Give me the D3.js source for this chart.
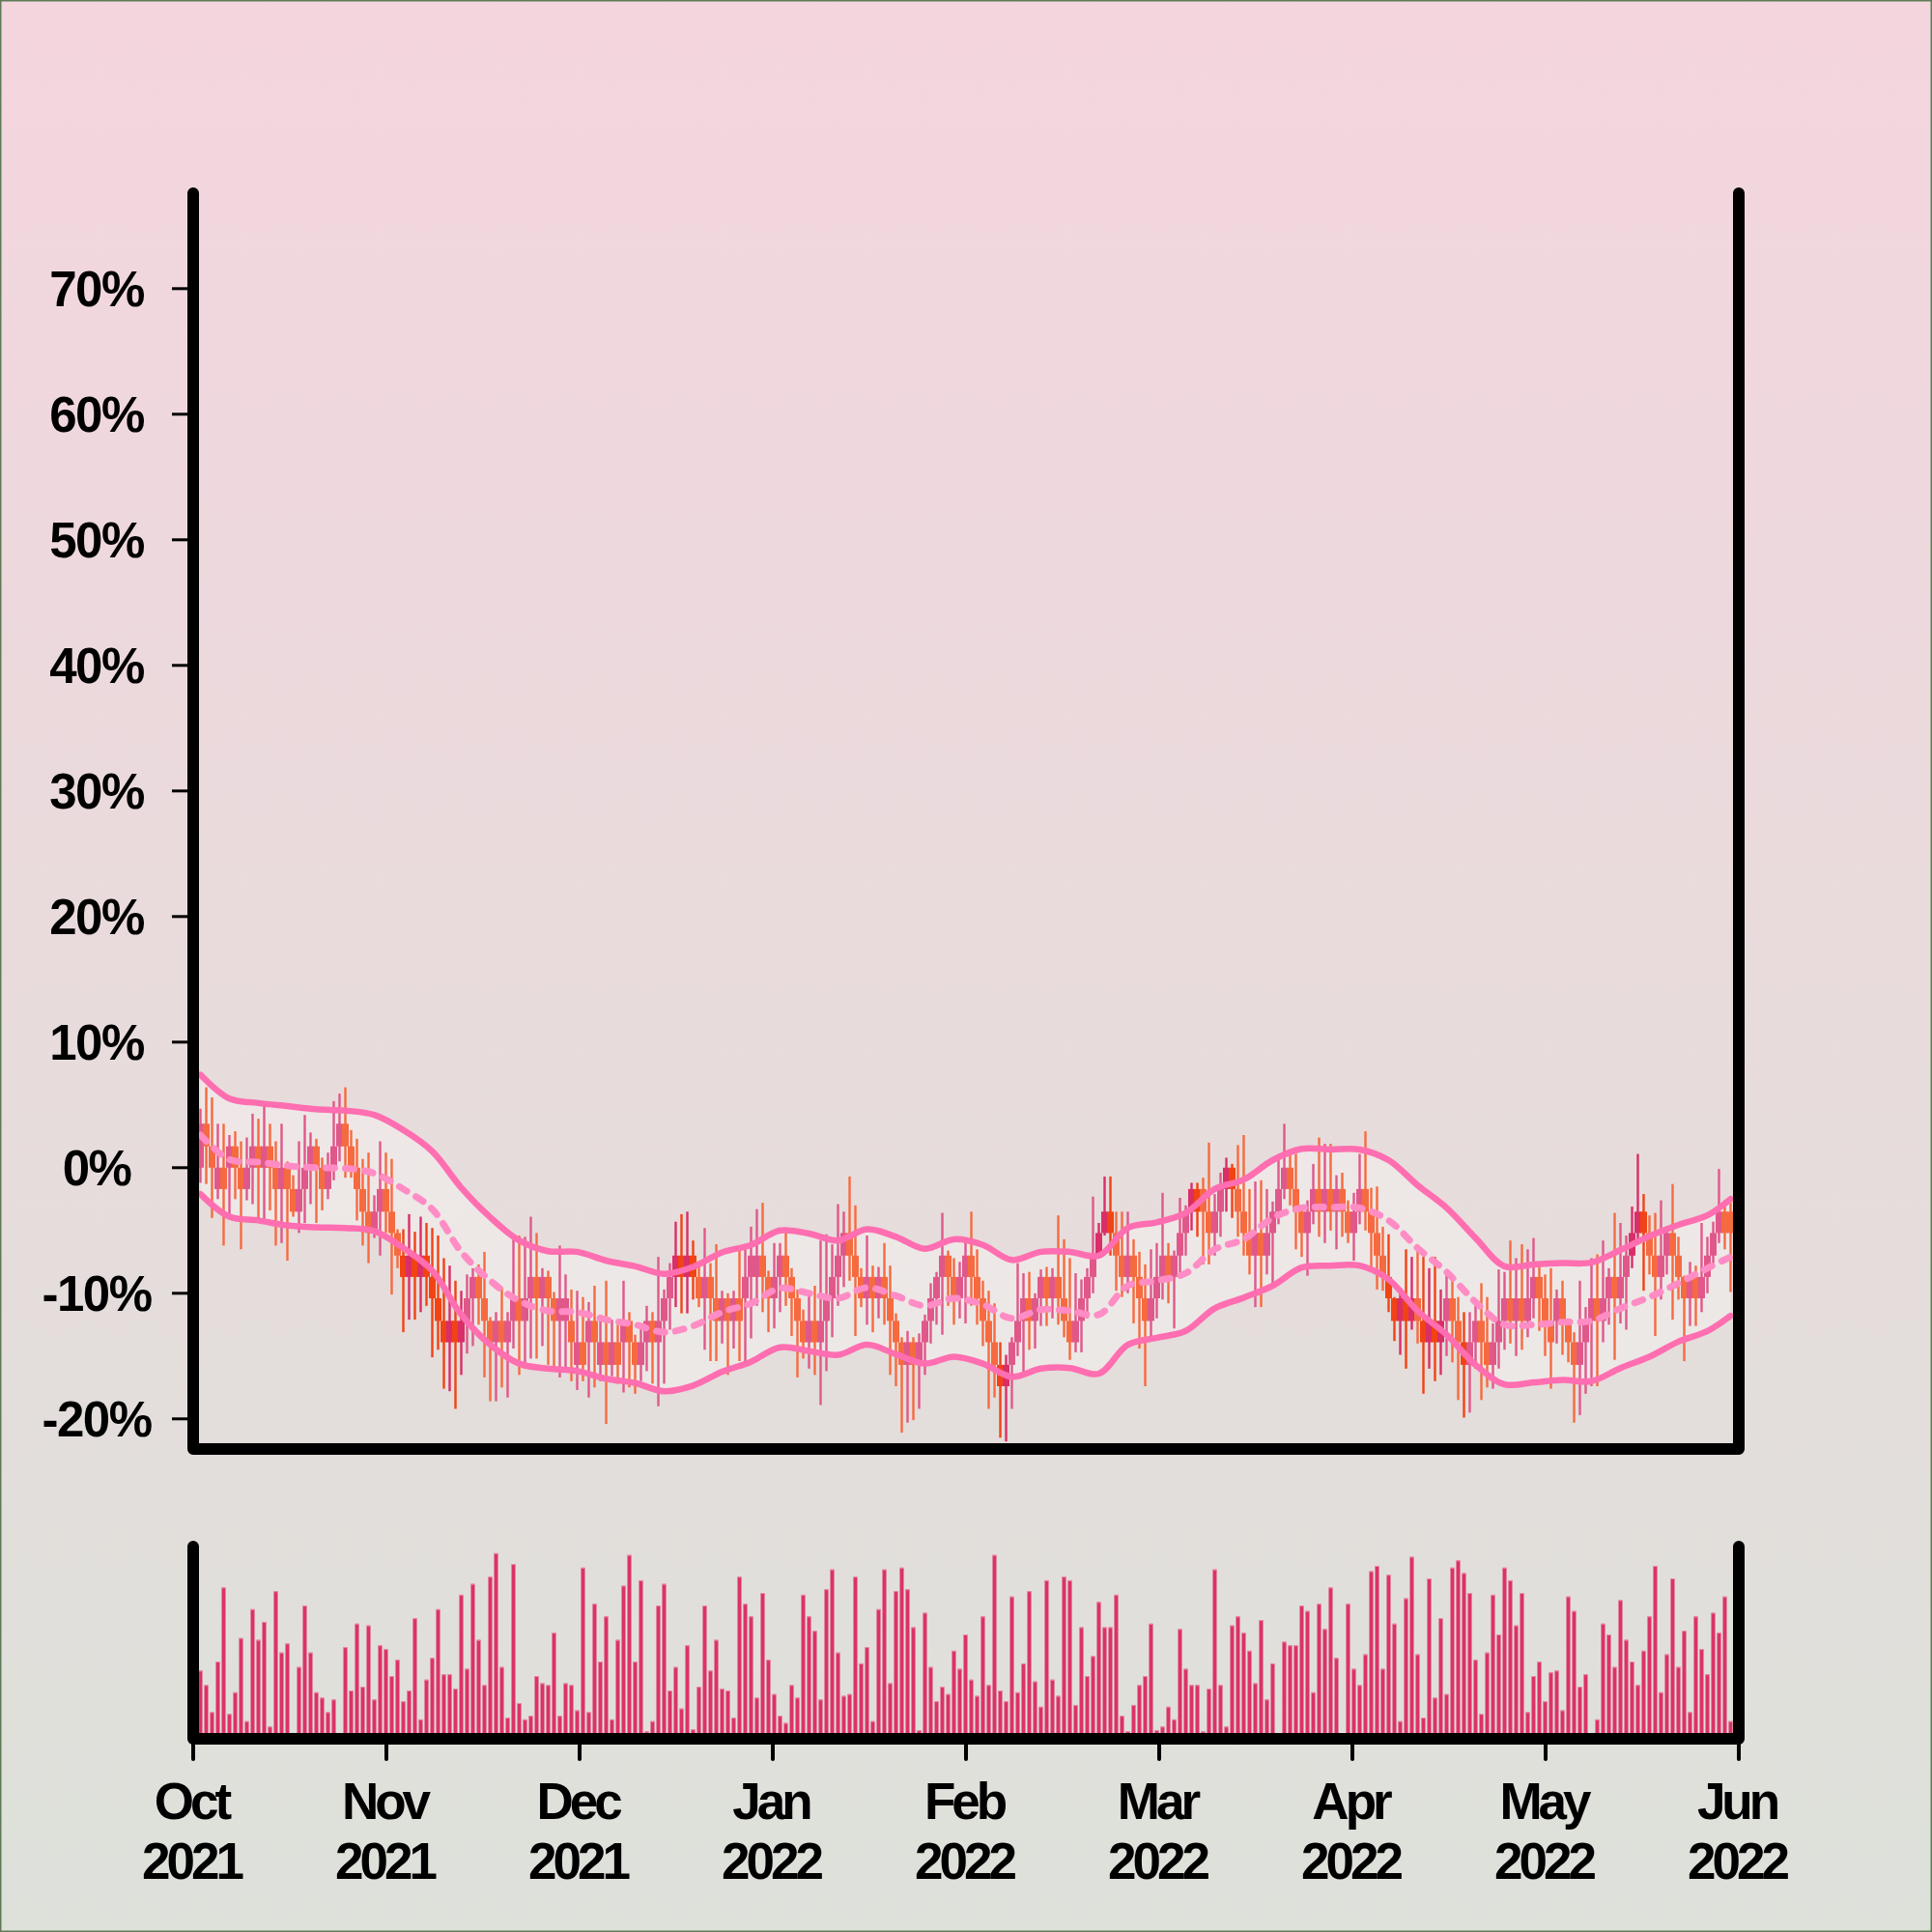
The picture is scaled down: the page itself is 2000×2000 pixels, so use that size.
<!DOCTYPE html>
<html><head><meta charset="utf-8">
<script src="https://cdn.jsdelivr.net/npm/d3@7"></script>
<style>html,body{margin:0;padding:0;background:#fff}svg{display:block}</style>
</head><body>
<svg id="chart" width="2000" height="2000"></svg>
<script>
// ---------- data ----------
const monthNames = ["Oct","Nov","Dec","Jan","Feb","Mar","Apr","May","Jun"];
const monthYears = ["2021","2021","2021","2022","2022","2022","2022","2022","2022"];
const yTicks = [-20,-10,0,10,20,30,40,50,60,70];

// daily candles, % change from start
const opens = [
0,3.5,1.7,-1.7,0,0,1.7,0,-1.7,0,
1.7,0,1.7,0,-1.7,0,-1.7,-3.5,-1.7,0,
1.7,0,-1.7,0,1.7,3.5,1.7,0,-1.7,-3.5,
-5.2,-3.5,-1.7,-3.5,-5.2,-7.0,-8.7,-7.0,-8.7,-7.0,
-8.7,-10.4,-12.2,-13.9,-12.2,-13.9,-12.2,-10.4,-8.7,-10.4,
-12.2,-13.9,-12.2,-13.9,-12.2,-10.4,-12.2,-10.4,-8.7,-10.4,
-8.7,-10.4,-12.2,-12.2,-12.2,-15.7,-13.9,-13.9,-12.2,-15.7,
-13.9,-15.7,-13.9,-13.9,-12.2,-13.9,-15.7,-13.9,-12.2,-13.9,
-12.2,-10.4,-8.7,-7.0,-8.7,-7.0,-8.7,-10.4,-8.7,-10.4,
-12.2,-10.4,-12.2,-10.4,-10.4,-8.7,-8.7,-7.0,-8.7,-10.4,
-8.7,-7.0,-8.7,-10.4,-12.2,-13.9,-12.2,-13.9,-12.2,-10.4,
-8.7,-7.0,-5.2,-7.0,-8.7,-10.4,-8.7,-10.4,-8.7,-10.4,
-12.2,-13.9,-15.7,-13.9,-15.7,-13.9,-12.2,-10.4,-8.7,-7.0,
-8.7,-10.4,-8.7,-7.0,-8.7,-10.4,-12.2,-13.9,-15.7,-17.4,
-15.7,-13.9,-12.2,-10.4,-12.2,-10.4,-8.7,-10.4,-8.7,-10.4,
-12.2,-13.9,-12.2,-10.4,-8.7,-7.0,-5.2,-3.5,-5.2,-7.0,
-8.7,-7.0,-8.7,-10.4,-12.2,-10.4,-8.7,-7.0,-8.7,-7.0,
-5.2,-3.5,-1.7,-1.7,-3.5,-5.2,-3.5,-1.7,0,-1.7,
-3.5,-5.2,-7.0,-5.2,-7.0,-5.2,-3.5,-1.7,0,-1.7,
-3.5,-5.2,-3.5,-1.7,-3.5,-1.7,-3.5,-1.7,-3.5,-5.2,
-3.5,-1.7,-3.5,-5.2,-7.0,-8.7,-10.4,-12.2,-10.4,-12.2,
-10.4,-12.2,-13.9,-12.2,-13.9,-12.2,-10.4,-12.2,-13.9,-15.7,
-13.9,-12.2,-13.9,-15.7,-13.9,-12.2,-10.4,-12.2,-10.4,-12.2,
-10.4,-8.7,-10.4,-12.2,-12.2,-10.4,-12.2,-13.9,-15.7,-13.9,
-12.2,-10.4,-12.2,-10.4,-8.7,-10.4,-8.7,-7.0,-5.2,-3.5,
-5.2,-7.0,-8.7,-7.0,-5.2,-7.0,-8.7,-10.4,-8.7,-10.4,
-8.7,-7.0,-5.2,-3.5,-3.5
];
const closes = [
3.5,1.7,0,0,-1.7,1.7,0,-1.7,0,1.7,
0,1.7,0,-1.7,0,-1.7,-3.5,-1.7,0,1.7,
0,-1.7,0,1.7,3.5,1.7,0,-1.7,-3.5,-5.2,
-3.5,-1.7,-3.5,-5.2,-7.0,-8.7,-7.0,-8.7,-7.0,-8.7,
-10.4,-12.2,-13.9,-12.2,-13.9,-12.2,-10.4,-8.7,-10.4,-12.2,
-13.9,-12.2,-13.9,-12.2,-10.4,-12.2,-10.4,-8.7,-10.4,-8.7,
-10.4,-12.2,-10.4,-10.4,-13.9,-13.9,-15.7,-12.2,-13.9,-13.9,
-15.7,-13.9,-15.7,-12.2,-13.9,-15.7,-13.9,-12.2,-13.9,-12.2,
-10.4,-8.7,-7.0,-8.7,-7.0,-8.7,-10.4,-8.7,-10.4,-12.2,
-10.4,-12.2,-10.4,-12.2,-8.7,-7.0,-7.0,-8.7,-10.4,-8.7,
-7.0,-8.7,-10.4,-12.2,-13.9,-12.2,-13.9,-12.2,-10.4,-8.7,
-7.0,-5.2,-7.0,-8.7,-10.4,-8.7,-10.4,-8.7,-10.4,-12.2,
-13.9,-15.7,-13.9,-15.7,-13.9,-12.2,-10.4,-8.7,-7.0,-8.7,
-10.4,-8.7,-7.0,-8.7,-10.4,-12.2,-13.9,-15.7,-17.4,-15.7,
-13.9,-12.2,-10.4,-12.2,-10.4,-8.7,-10.4,-8.7,-10.4,-12.2,
-13.9,-12.2,-10.4,-8.7,-7.0,-5.2,-3.5,-5.2,-7.0,-8.7,
-7.0,-8.7,-10.4,-12.2,-10.4,-8.7,-7.0,-8.7,-7.0,-5.2,
-3.5,-1.7,-3.5,-3.5,-5.2,-3.5,-1.7,0,-1.7,-3.5,
-5.2,-7.0,-5.2,-7.0,-5.2,-3.5,-1.7,0,-1.7,-3.5,
-5.2,-3.5,-1.7,-3.5,-1.7,-3.5,-1.7,-3.5,-5.2,-3.5,
-1.7,-3.5,-5.2,-7.0,-8.7,-10.4,-12.2,-10.4,-12.2,-10.4,
-12.2,-13.9,-12.2,-13.9,-12.2,-10.4,-12.2,-13.9,-15.7,-13.9,
-12.2,-13.9,-15.7,-13.9,-12.2,-10.4,-12.2,-10.4,-12.2,-10.4,
-8.7,-10.4,-12.2,-13.9,-10.4,-12.2,-13.9,-15.7,-13.9,-12.2,
-10.4,-12.2,-10.4,-8.7,-10.4,-8.7,-7.0,-5.2,-3.5,-5.2,
-7.0,-8.7,-7.0,-5.2,-7.0,-8.7,-10.4,-8.7,-10.4,-8.7,
-7.0,-5.2,-3.5,-5.2,-5.2
];
const highs = [
4.7,6.4,5.6,3.5,3.5,2.6,2.9,2.1,2.4,4.3,
3.9,5.0,3.5,2.1,3.5,0.5,-0.6,2.1,4.2,2.8,
2.3,0.8,1.2,5.3,5.9,6.4,3.0,2.3,0.7,1.2,
-2.2,2.1,1.2,0.7,-4.9,-4.9,-3.7,-5.1,-3.9,-4.4,
-4.8,-5.4,-7.2,-7.8,-9.0,-9.8,-8.5,-8.0,-7.7,-6.7,
-11.9,-11.5,-9.5,-11.5,-5.5,-5.4,-5.5,-3.9,-5.2,-8.0,
-8.2,-9.9,-6.2,-8.5,-9.7,-9.8,-10.3,-10.7,-9.4,-11.7,
-9.0,-12.1,-12.5,-9.0,-11.5,-13.3,-12.4,-11.0,-11.5,-7.1,
-9.7,-7.6,-4.3,-3.7,-3.5,-5.8,-7.6,-4.8,-7.6,-6.1,
-9.8,-10.0,-9.8,-6.6,-6.5,-4.7,-3.3,-2.8,-8.2,-6.0,
-6.0,-5.1,-8.0,-9.7,-11.3,-10.1,-9.4,-5.8,-5.3,-6.1,
-2.9,-3.5,-0.7,-3.0,-8.0,-5.4,-7.8,-7.9,-6.0,-7.8,
-11.6,-13.5,-13.0,-13.5,-13.2,-11.7,-9.2,-8.3,-3.6,-6.6,
-7.2,-7.5,-5.6,-3.5,-6.5,-9.0,-9.8,-10.8,-13.9,-14.9,
-13.5,-7.6,-8.4,-8.3,-10.0,-8.1,-7.9,-8.0,-3.8,-5.7,
-7.2,-8.4,-8.9,-8.0,-2.3,-4.4,-0.7,-0.7,-3.5,-3.5,
-3.5,-5.7,-6.7,-7.7,-6.5,-6.0,-2.0,-6.0,-6.6,-2.4,
-3.0,-1.2,-1.2,-0.8,2.0,-2.1,-0.4,0.8,0.3,1.8,
2.6,-1.7,-1.1,-1.0,-1.7,-2.7,1.0,3.5,1.0,1.1,
-3.4,-2.6,0.3,2.4,1.9,1.9,-0.6,-0.4,-2.6,-2.0,
1.1,2.9,-1.6,-1.5,-4.7,-5.3,-10.3,-9.9,-6.5,-7.1,
-6.2,-7.1,-8.0,-7.1,-9.7,-8.1,-8.6,-10.3,-11.5,-11.5,
-10.5,-9.2,-10.3,-12.4,-8.1,-8.3,-5.8,-7.2,-6.1,-6.5,
-5.6,-7.6,-8.5,-8.0,-9.7,-9.0,-12.0,-13.1,-9.0,-11.1,
-7.2,-6.9,-5.8,-8.0,-3.6,-4.4,-5.4,-3.1,1.1,-2.1,
-3.8,-3.6,-2.6,-4.7,-1.3,-5.5,-8.6,-7.5,-7.8,-4.4,
-5.5,-4.3,-0.1,-2.6,-2.8
];
const lows = [
-1.2,-1.3,-4.0,-2.5,-6.2,-3.7,-2.5,-6.5,-2.6,-2.9,
-4.0,-4.4,-3.4,-6.2,-6.0,-7.4,-3.9,-5.2,-4.4,-2.9,
-4.4,-3.4,-2.5,-1.0,0.5,-0.8,-0.8,-4.2,-6.2,-7.6,
-5.6,-7.0,-5.2,-10.1,-8.0,-13.1,-12.1,-12.1,-11.5,-11.0,
-15.1,-14.5,-17.6,-17.8,-19.2,-16.5,-14.8,-14.2,-12.5,-16.7,
-18.6,-18.6,-17.5,-18.3,-14.4,-16.5,-16.0,-15.2,-15.2,-14.2,
-15.7,-16.0,-16.7,-16.1,-17.0,-17.7,-17.0,-18.3,-17.5,-17.0,
-20.4,-16.6,-17.2,-17.9,-17.5,-18.0,-17.0,-16.2,-17.2,-19.0,
-17.2,-12.9,-11.1,-11.6,-11.6,-10.5,-11.1,-14.5,-15.4,-15.4,
-14.0,-16.5,-14.4,-15.4,-15.4,-13.6,-11.0,-11.5,-13.1,-12.8,
-11.5,-11.0,-13.4,-16.7,-15.2,-16.0,-16.5,-18.9,-16.2,-13.5,
-11.0,-9.5,-9.0,-13.4,-11.1,-12.5,-13.1,-12.0,-12.5,-16.5,
-17.4,-21.1,-20.3,-20.1,-19.2,-16.5,-14.0,-12.5,-13.3,-11.0,
-12.5,-12.0,-12.4,-11.0,-12.5,-14.2,-19.2,-18.3,-21.5,-21.8,
-19.2,-15.0,-16.5,-14.5,-14.4,-12.6,-12.6,-12.0,-12.5,-13.5,
-15.3,-14.7,-14.7,-12.0,-10.0,-7.2,-5.4,-7.0,-9.8,-10.3,
-10.0,-12.4,-14.4,-17.4,-13.5,-12.0,-10.5,-10.8,-12.8,-8.5,
-7.0,-5.0,-5.5,-7.7,-7.7,-7.0,-5.5,-3.5,-4.0,-5.5,
-7.0,-8.5,-11.1,-11.1,-8.5,-9.3,-4.5,-2.5,-3.0,-6.5,
-7.1,-8.6,-4.5,-5.5,-6.0,-5.0,-6.5,-5.5,-6.0,-7.4,
-4.5,-5.0,-8.0,-9.7,-9.8,-11.5,-13.8,-14.9,-16.0,-12.9,
-14.0,-18.0,-16.0,-17.0,-16.5,-15.0,-15.5,-18.5,-19.9,-19.5,
-16.0,-18.5,-17.5,-17.6,-16.0,-14.5,-14.0,-15.0,-14.5,-13.5,
-12.0,-13.0,-15.0,-17.6,-14.0,-14.9,-15.5,-20.3,-19.7,-18.0,
-17.4,-17.4,-13.9,-12.5,-15.3,-12.4,-12.9,-8.0,-6.0,-9.8,
-8.5,-13.4,-10.5,-8.5,-12.1,-10.5,-15.4,-12.6,-12.6,-11.5,
-10.0,-8.0,-6.0,-6.5,-9.9
];
const volumes = [
34,26,11,39,80,10,22,52,6,68,
51,61,3,78,44,49,0,36,70,44,
22,19,11,18,0,47,23,60,25,59,
18,48,46,31,40,17,23,63,7,29,
41,68,32,32,24,76,35,82,51,26,
86,99,36,8,93,16,7,9,31,27,
26,55,9,27,26,12,91,11,71,39,
64,7,51,81,98,39,84,0.3,6,70,
82,23,36,13,48,1.5,25,70,34,51,
24,23,8,86,71,64,19,77,40,21,
9,5,26,19,76,64,56,18,79,90,
44,20,21,86,38,47,6,68,90,27,
78,91,79,58,1,66,36,17,25,21,
45,35,54,29,20,64,26,98,23,17,
75,22,38,78,28,14,84,29,20,86,
84,15,58,31,42,72,58,58,76,9,
0.5,15,26,31,60,1,3,14,7,57,
35,26,26,0.3,24,90,26,3,59,64,
55,45,27,62,18,38,0,50,48,48,
70,67,22,71,57,80,41,0,71,35,
26,43,89,92,35,87,60,6,74,97,
43,8,85,19,63,21,91,95,88,77,
40,10,44,76,54,91,84,59,77,11,
31,39,17,33,34,12,75,67,25,32,
0,7,60,54,36,73,51,39,26,45,
64,92,22,43,85,36,56,11,64,46,
32,66,55,75,6
];

// band lines, read at every 5th candle
const bandIndex = [0,5,10,15,20,25,30,35,40,45,50,55,60,65,70,75,80,85,90,95,100,105,110,115,120,125,130,135,140,145,150,155,160,165,170,175,180,185,190,195,200,205,210,215,220,225,230,235,240,245,250,255,260,264];
const bandUpper = [7.4,5.5,5.15,4.9,4.65,4.55,4.2,3.0,1.3,-1.6,-3.95,-5.8,-6.65,-6.7,-7.4,-7.85,-8.45,-7.9,-6.75,-6.15,-5.0,-5.25,-5.8,-4.9,-5.5,-6.45,-5.7,-6.15,-7.35,-6.7,-6.7,-7.0,-4.8,-4.35,-3.6,-1.7,-0.95,0.6,1.5,1.45,1.45,0.6,-1.4,-3.2,-5.6,-7.85,-7.7,-7.6,-7.55,-6.55,-5.45,-4.55,-3.8,-2.5];
const bandMiddle = [2.6,0.65,0.45,0.15,0,-0.05,-0.45,-1.7,-3.3,-6.7,-9.0,-10.6,-11.4,-11.5,-12.1,-12.5,-13.1,-12.6,-11.5,-10.8,-9.6,-10.0,-10.4,-9.55,-10.2,-11.0,-10.4,-10.9,-12.0,-11.3,-11.4,-11.7,-9.4,-9.0,-8.4,-6.5,-5.7,-4.0,-3.2,-3.15,-3.2,-4.2,-6.4,-8.3,-10.7,-12.5,-12.5,-12.3,-12.2,-11.2,-10.3,-9.2,-8.0,-7.1];
const bandLower = [-2.1,-3.9,-4.2,-4.6,-4.75,-4.8,-5.05,-6.4,-8.2,-11.7,-14.1,-15.6,-16.0,-16.2,-16.8,-17.15,-17.8,-17.35,-16.25,-15.45,-14.3,-14.6,-14.9,-14.1,-14.85,-15.6,-15.05,-15.6,-16.65,-16.0,-15.95,-16.4,-14.1,-13.55,-13.0,-11.2,-10.35,-9.4,-7.95,-7.8,-7.8,-8.9,-11.4,-13.3,-15.7,-17.25,-17.1,-16.9,-17.0,-15.95,-15.05,-13.85,-13.0,-11.8];

// ---------- drawing ----------
const svg = d3.select("#chart");
const defs = svg.append("defs");
const grad = defs.append("linearGradient").attr("id","bg").attr("x1",0).attr("y1",0).attr("x2",0).attr("y2",1);
grad.append("stop").attr("offset","0%").attr("stop-color","#f4d5de");
grad.append("stop").attr("offset","100%").attr("stop-color","#dde1da");
svg.append("rect").attr("width",2000).attr("height",2000).attr("fill","url(#bg)");
svg.append("rect").attr("x",0.75).attr("y",0.75).attr("width",1998.5).attr("height",1998.5)
  .attr("fill","none").attr("stroke","#5e7a55").attr("stroke-width",1.5);

const n = opens.length;
const x = d3.scaleLinear().domain([0, n - 1]).range([207.5, 1791.5]);
const y = d3.scaleLinear().domain([-22.4, 77.6]).range([1500, 200]);
const yv = d3.scaleLinear().domain([0, 100]).range([1793, 1606]);
const xm = d3.scalePoint().domain(d3.range(monthNames.length)).range([200, 1800]);

const band = bandIndex.map((b, k) => ({ i: b, up: bandUpper[k], mid: bandMiddle[k], lo: bandLower[k] }));
const upAt = d3.scaleLinear().domain(bandIndex).range(bandUpper);
const loAt = d3.scaleLinear().domain(bandIndex).range(bandLower);

// band fill
svg.append("path").datum(band)
  .attr("d", d3.area().x(d => x(d.i)).y0(d => y(d.lo)).y1(d => y(d.up)).curve(d3.curveCatmullRom))
  .attr("fill", "#ffffff").attr("fill-opacity", 0.32);

const candles = d3.range(n).map(i => {
  const o = opens[i], c = closes[i];
  const mid = (o + c) / 2;
  const strong = mid > upAt(i) || mid < loAt(i);
  const up = c >= o;
  const color = up ? (strong ? "#d92e68" : "#e0588a") : (strong ? "#f14313" : "#f66a40");
  return { i, o, c, h: highs[i], l: lows[i], color };
});

const gC = svg.append("g");
gC.selectAll("line.wick").data(candles).join("line")
  .attr("x1", d => x(d.i)).attr("x2", d => x(d.i))
  .attr("y1", d => y(d.h)).attr("y2", d => y(d.l))
  .attr("stroke", d => d.color).attr("stroke-width", 2.4);
gC.selectAll("rect.body").data(candles).join("rect")
  .attr("x", d => x(d.i) - 3.5).attr("width", 7)
  .attr("y", d => y(Math.max(d.o, d.c)))
  .attr("height", d => Math.max(1, Math.abs(y(d.o) - y(d.c))))
  .attr("fill", d => d.color);

// band lines
const lineOf = key => d3.line().x(d => x(d.i)).y(d => y(d[key])).curve(d3.curveCatmullRom);
svg.append("path").datum(band).attr("d", lineOf("up"))
  .attr("fill","none").attr("stroke","#ff6eb0").attr("stroke-width",6.5).attr("stroke-linecap","round");
svg.append("path").datum(band).attr("d", lineOf("lo"))
  .attr("fill","none").attr("stroke","#ff6eb0").attr("stroke-width",6.5).attr("stroke-linecap","round");
svg.append("path").datum(band).attr("d", lineOf("mid"))
  .attr("fill","none").attr("stroke","#ff8cc4").attr("stroke-width",7)
  .attr("stroke-dasharray","9,11").attr("stroke-linecap","round");

// volume bars
const vols = volumes.map((v, i) => ({ i, v })).filter(d => d.v > 0);
const gV = svg.append("g");
gV.selectAll("rect.vol").data(vols).join("rect")
  .attr("x", d => x(d.i) - 2).attr("width", 4)
  .attr("y", d => yv(d.v)).attr("height", d => yv(0) - yv(d.v) + 2)
  .attr("fill", "#dc3268");
gV.selectAll("rect.cap").data(vols).join("rect")
  .attr("x", d => x(d.i) - 2).attr("width", 4)
  .attr("y", d => yv(d.v)).attr("height", 1)
  .attr("fill", "#ea8dab");

// axes frames
svg.append("path").attr("d", "M200,200V1500H1800V200")
  .attr("fill","none").attr("stroke","#000").attr("stroke-width",12)
  .attr("stroke-linecap","round").attr("stroke-linejoin","round");
svg.append("path").attr("d", "M200,1601V1800H1800V1601")
  .attr("fill","none").attr("stroke","#000").attr("stroke-width",12)
  .attr("stroke-linecap","round").attr("stroke-linejoin","round");

// y ticks
const gY = svg.append("g");
gY.selectAll("line").data(yTicks).join("line")
  .attr("x1", 178).attr("x2", 198).attr("y1", d => y(d)).attr("y2", d => y(d))
  .attr("stroke","#000").attr("stroke-width",3);
gY.selectAll("text").data(yTicks).join("text")
  .attr("x", 100).attr("y", d => y(d) + 18.5)
  .attr("text-anchor","middle")
  .style("font-family","'Liberation Sans', Arial, Helvetica, sans-serif")
  .style("font-weight","bold").style("font-size","51px").style("letter-spacing","-1.5px")
  .attr("fill","#000")
  .text(d => d + "%");

// x ticks
const gX = svg.append("g");
gX.selectAll("line").data(xm.domain()).join("line")
  .attr("x1", d => xm(d)).attr("x2", d => xm(d)).attr("y1", 1804).attr("y2", 1821)
  .attr("stroke","#000").attr("stroke-width",4).attr("stroke-linecap","round");
const xt = gX.selectAll("text").data(xm.domain()).join("text")
  .attr("text-anchor","middle")
  .style("font-family","'Liberation Sans', Arial, Helvetica, sans-serif")
  .style("font-weight","bold").style("font-size","53px").style("letter-spacing","-4px")
  .attr("fill","#000");
xt.append("tspan").attr("x", d => xm(d) - 2).attr("y", 1883).text(d => monthNames[d]);
xt.append("tspan").attr("x", d => xm(d) - 2).attr("y", 1945).text(d => monthYears[d]);
</script>
</body></html>
